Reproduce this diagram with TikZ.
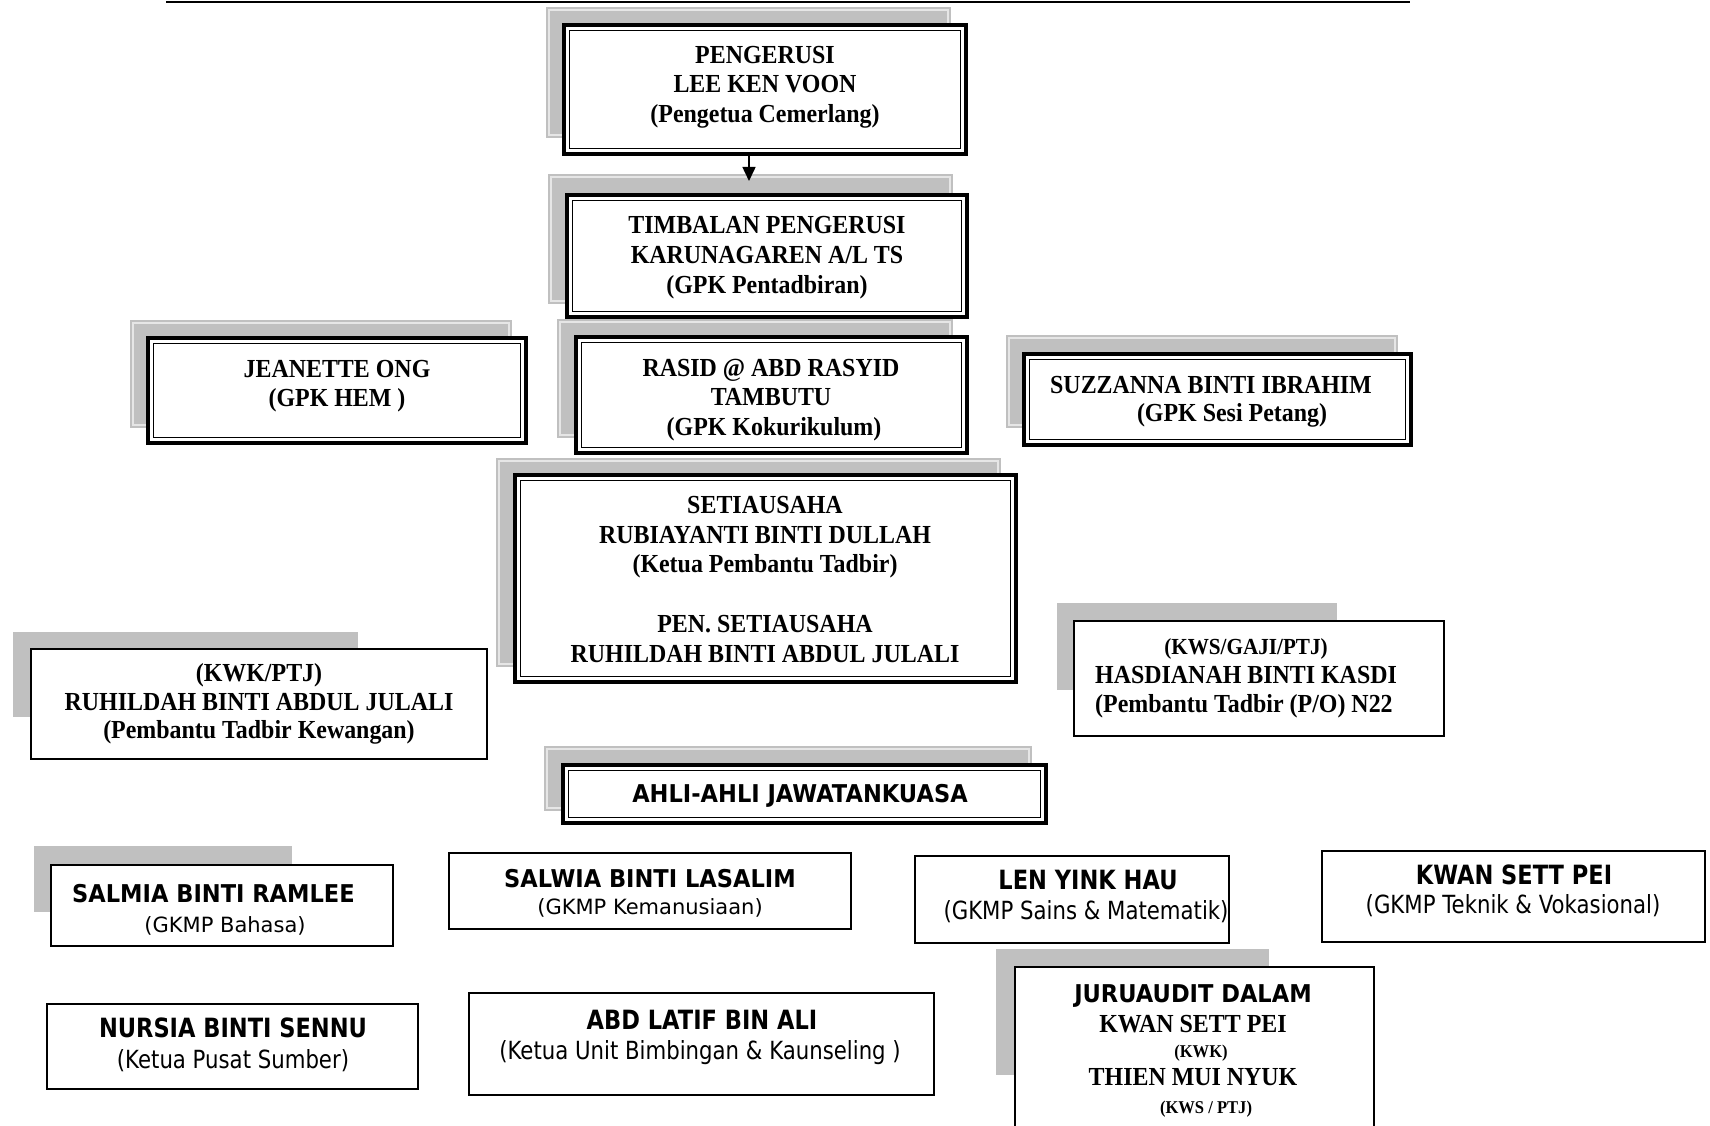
\documentclass[tikz,border=0pt]{standalone}
\usepackage{fontspec}
\usetikzlibrary{arrows.meta}
\newfontfamily\tnr{Liberation Serif}[FakeStretch=0.92]
\newfontfamily\tah{DejaVu Sans}
\newfontfamily\tahm{DejaVu Sans}[FakeStretch=0.92]
\newfontfamily\tahc{DejaVu Sans}[FakeStretch=0.85]
\definecolor{shadowc}{RGB}{192,192,192}
\definecolor{hlc}{RGB}{230,230,230}
\newcommand\fTB{\tnr\bfseries\fontsize{26}{30}\selectfont}
\newcommand\fTBm{\tnr\bfseries\fontsize{23}{27}\selectfont}
\newcommand\fTBs{\tnr\bfseries\fontsize{18}{21}\selectfont}
\newcommand\fSB{\tahm\bfseries\fontsize{24.5}{29}\selectfont}
\newcommand\fSR{\tah\fontsize{21}{25}\selectfont}
\newcommand\fCB{\tahc\bfseries\fontsize{26.5}{30}\selectfont}
\newcommand\fCR{\tahc\fontsize{25}{30}\selectfont}
\newcommand\shadowhl[4]{\fill[shadowfill] (#1,#2) rectangle (#3,#4);
  \draw[hlline] ({#1+3},{#2+3}) rectangle ({#3-3},{#4-3});}
\newcommand\shadowplain[4]{\fill[shadowfill] (#1,#2) rectangle (#3,#4);}
\newcommand\dboxnode[5]{\node[dbox, minimum width={#4-#2-4}, minimum height={#5-#3-4}] (#1) at ({(#2+#4)/2},{(#3+#5)/2}) {};
  \draw[line width=1.8] ([shift={(5.5,5.5)}]#1.north west) rectangle ([shift={(-5.5,-5.5)}]#1.south east);}
\newcommand\sboxnode[5]{\node[sbox, minimum width={#4-#2-2}, minimum height={#5-#3-2}] (#1) at ({(#2+#4)/2},{(#3+#5)/2}) {};}
\newcommand\orgline[5]{\node[anchor=base, inner sep=0, font=#2] (#1) at (#3,#4) {#5};}
\newcommand\orglineW[5]{\node[anchor=base west, inner sep=0, font=#2] (#1) at (#3,#4) {#5};}
\begin{document}
\begin{tikzpicture}[x=1pt,y=-1pt,
  shadowfill/.style={fill=shadowc},
  hlline/.style={draw=hlc, line width=1.2},
  dbox/.style={draw, line width=4, fill=white, inner sep=0, outer sep=0},
  sbox/.style={draw, line width=2, fill=white, inner sep=0, outer sep=0},
  connector/.style={line width=1.5, -{Triangle[width=13pt,length=14pt]}}]
\useasboundingbox[fill=white] (0,0) rectangle (1710,1126);
% top rule
\draw[line width=2] (166,2) -- (1410,2);
% shadows
\shadowhl{546}{7}{951}{138}
\shadowhl{548}{174}{953}{304}
\shadowhl{130}{320}{512}{428}
\shadowhl{557}{319}{953}{438}
\shadowhl{1006}{335}{1398}{428}
\shadowhl{496}{458}{1001}{667}
\shadowplain{13}{632}{358}{717}
\shadowplain{1057}{603}{1337}{690}
\shadowhl{544}{746}{1032}{811}
\shadowplain{34}{846}{292}{912}
\shadowplain{996}{949}{1269}{1075}
% boxes
\dboxnode{peng}{562}{23}{968}{156}
\dboxnode{timb}{565}{193}{969}{319}
\dboxnode{jean}{146}{336}{528}{445}
\dboxnode{rasid}{574}{335}{969}{455}
\dboxnode{suzz}{1022}{352}{1413}{447}
\dboxnode{setia}{513}{473}{1018}{684}
\sboxnode{kwk}{30}{648}{488}{760}
\sboxnode{hasd}{1073}{620}{1445}{737}
\dboxnode{ahli}{561}{763}{1048}{825}
\sboxnode{salmia}{50}{864}{394}{947}
\sboxnode{salwia}{448}{852}{852}{930}
\sboxnode{len}{914}{855}{1230}{944}
\sboxnode{kwan}{1321}{850}{1706}{943}
\sboxnode{nursia}{46}{1003}{419}{1090}
\sboxnode{abd}{468}{992}{935}{1096}
\sboxnode{juru}{1014}{966}{1375}{1140}
% connector
\coordinate (arrtip) at (749,181);
\draw[connector] (peng.south -| arrtip) -- (arrtip);
% texts
\orgline{peng1}{\fTB}{765}{63.5}{PENGERUSI}
\orgline{peng2}{\fTB}{765}{93}{LEE KEN VOON}
\orgline{peng3}{\fTB}{765}{122.5}{(Pengetua Cemerlang)}
\orgline{timb1}{\fTB}{767}{233.5}{TIMBALAN PENGERUSI}
\orgline{timb2}{\fTB}{767}{263.5}{KARUNAGAREN A/L TS}
\orgline{timb3}{\fTB}{767}{293.5}{(GPK Pentadbiran)}
\orgline{jean1}{\fTB}{337}{377.5}{JEANETTE ONG}
\orgline{jean2}{\fTB}{337}{406.5}{(GPK HEM )}
\orgline{rasid1}{\fTB}{771}{376.5}{RASID @ ABD RASYID}
\orgline{rasid2}{\fTB}{771}{405.5}{TAMBUTU}
\orgline{rasid3}{\fTB}{774}{435.5}{(GPK Kokurikulum)}
\orgline{suzz1}{\fTB}{1211}{393.5}{SUZZANNA BINTI IBRAHIM}
\orgline{suzz2}{\fTB}{1232}{421.5}{(GPK Sesi Petang)}
\orgline{setia1}{\fTB}{765}{513.5}{SETIAUSAHA}
\orgline{setia2}{\fTB}{765}{543}{RUBIAYANTI BINTI DULLAH}
\orgline{setia3}{\fTB}{765}{572.5}{(Ketua Pembantu Tadbir)}
\orgline{setia4}{\fTB}{765}{632.5}{PEN. SETIAUSAHA}
\orgline{setia5}{\fTB}{765}{662}{RUHILDAH BINTI ABDUL JULALI}
\orgline{kwk1}{\fTB}{259}{681.5}{(KWK/PTJ)}
\orgline{kwk2}{\fTB}{259}{710}{RUHILDAH BINTI ABDUL JULALI}
\orgline{kwk3}{\fTB}{259}{738.5}{(Pembantu Tadbir Kewangan)}
\orgline{hasd1}{\fTBm}{1246}{654.5}{(KWS/GAJI/PTJ)}
\orglineW{hasd2}{\fTB}{1095}{683.5}{HASDIANAH BINTI KASDI}
\orglineW{hasd3}{\fTB}{1095}{712.5}{(Pembantu Tadbir (P/O) N22}
\orgline{ahli1}{\fSB}{800}{802}{AHLI-AHLI JAWATANKUASA}
\orglineW{salmia1}{\fSB}{72}{902}{SALMIA BINTI RAMLEE}
\orgline{salmia2}{\fSR}{225}{932.7}{(GKMP Bahasa)}
\orgline{salwia1}{\fSB}{650}{887}{SALWIA BINTI LASALIM}
\orgline{salwia2}{\fSR}{650}{914.7}{(GKMP Kemanusiaan)}
\orgline{len1}{\fCB}{1088}{889.7}{LEN YINK HAU}
\orgline{len2}{\fCR}{1086}{919.1}{(GKMP Sains \& Matematik)}
\orgline{kwan1}{\fCB}{1514}{884.7}{KWAN SETT PEI}
\orgline{kwan2}{\fCR}{1513}{913.1}{(GKMP Teknik \& Vokasional)}
\orgline{nursia1}{\fCB}{233}{1037.7}{NURSIA BINTI SENNU}
\orgline{nursia2}{\fCR}{233}{1068.1}{(Ketua Pusat Sumber)}
\orgline{abd1}{\fCB}{702}{1029.7}{ABD LATIF BIN ALI}
\orgline{abd2}{\fCR}{700}{1059.1}{(Ketua Unit Bimbingan \& Kaunseling )}
\orgline{juru1}{\fSB}{1193}{1002.2}{JURUAUDIT DALAM}
\orgline{juru2}{\fTB}{1193}{1032.5}{KWAN SETT PEI}
\orgline{juru3}{\fTBs}{1201}{1057}{(KWK)}
\orgline{juru4}{\fTB}{1193}{1085.5}{THIEN MUI NYUK}
\orgline{juru5}{\fTBs}{1206}{1113}{(KWS / PTJ)}
\end{tikzpicture}
\end{document}
